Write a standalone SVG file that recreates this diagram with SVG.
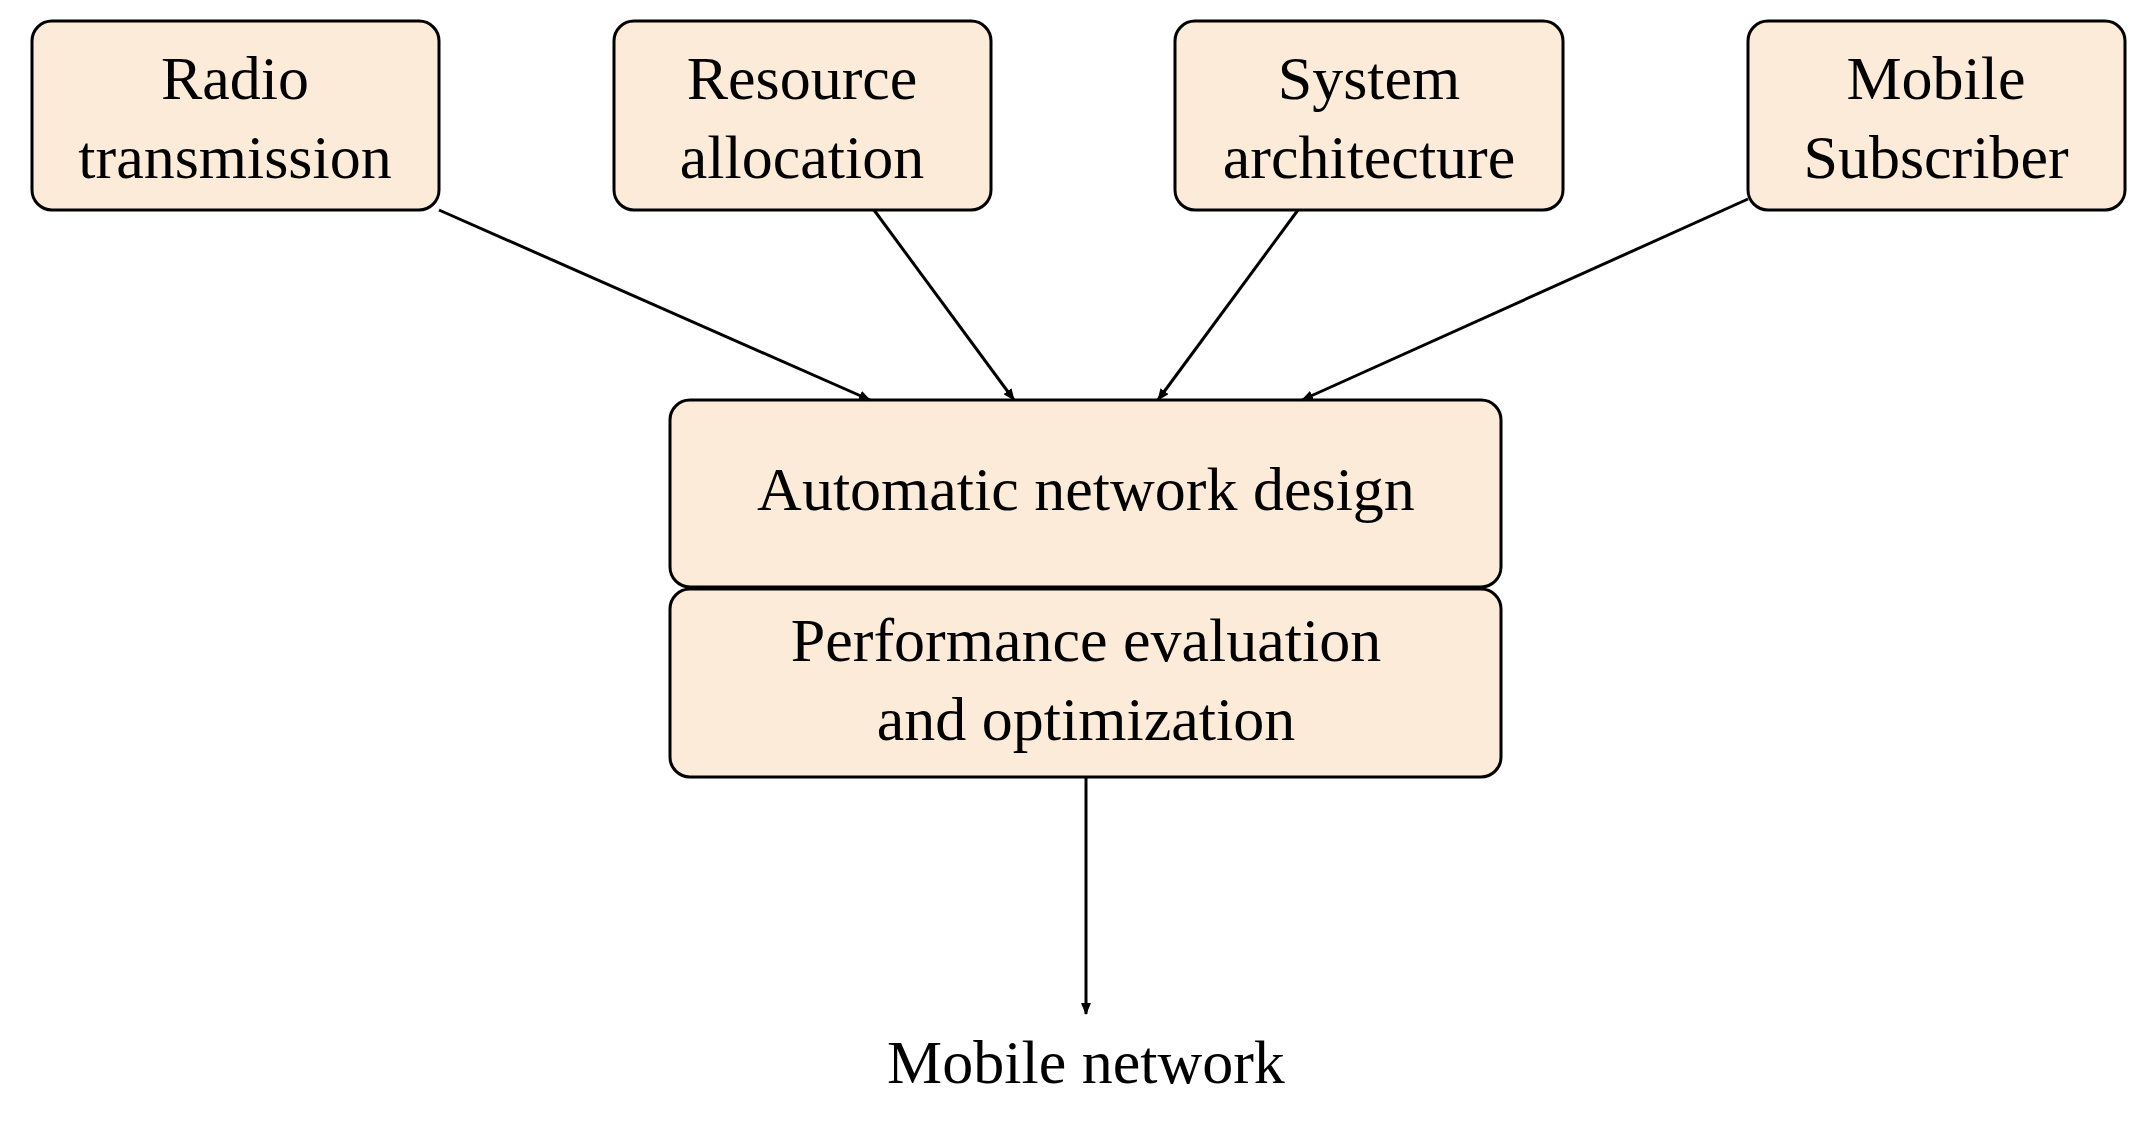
<svg xmlns="http://www.w3.org/2000/svg" width="2149" height="1122" viewBox="0 0 2149 1122">
<style>
.n{fill:#fdebd9;stroke:#000;stroke-width:3}
text{font-family:"Liberation Serif","DejaVu Serif",serif;font-size:62px;text-anchor:middle;fill:#000}
.c{stroke:#000;stroke-width:3;fill:none;marker-end:url(#a)}
</style>
<defs><marker id="a" markerWidth="12" markerHeight="10" refX="11" refY="5" orient="auto" markerUnits="userSpaceOnUse" viewBox="0 0 12 10"><path d="M0,0L12,5L0,10z" fill="#000"/></marker>
</defs>
<rect width="2149" height="1122" fill="#fff"/>
<g id="radio"><rect class="n" x="32" y="21" width="407" height="189" rx="20"/><text x="235" y="99">Radio</text><text x="235" y="178">transmission</text></g>
<g id="resource"><rect class="n" x="614" y="21" width="377" height="189" rx="20"/><text x="802" y="99">Resource</text><text x="802" y="178">allocation</text></g>
<g id="system"><rect class="n" x="1175" y="21" width="388" height="189" rx="20"/><text x="1369" y="99">System</text><text x="1369" y="178">architecture</text></g>
<g id="subscriber"><rect class="n" x="1748" y="21" width="377" height="189" rx="20"/><text x="1936" y="99">Mobile</text><text x="1936" y="178">Subscriber</text></g>
<g id="design"><rect class="n" x="670" y="400" width="831" height="187" rx="20"/><text x="1086" y="510">Automatic network design</text></g>
<g id="perf"><rect class="n" x="670" y="589" width="831" height="188" rx="20"/><text x="1086" y="661">Performance evaluation</text><text x="1086" y="740">and optimization</text></g>
<g id="mobile"><text x="1086" y="1083">Mobile network</text></g>
<g id="connectors">
<path class="c" d="M439,210L870,400"/>
<path class="c" d="M874,210L1014,400"/>
<path class="c" d="M1298,210L1158,400"/>
<path class="c" d="M1748,199L1302,400"/>
<path class="c" d="M1086,777L1086,1014"/>
</g>
</svg>
